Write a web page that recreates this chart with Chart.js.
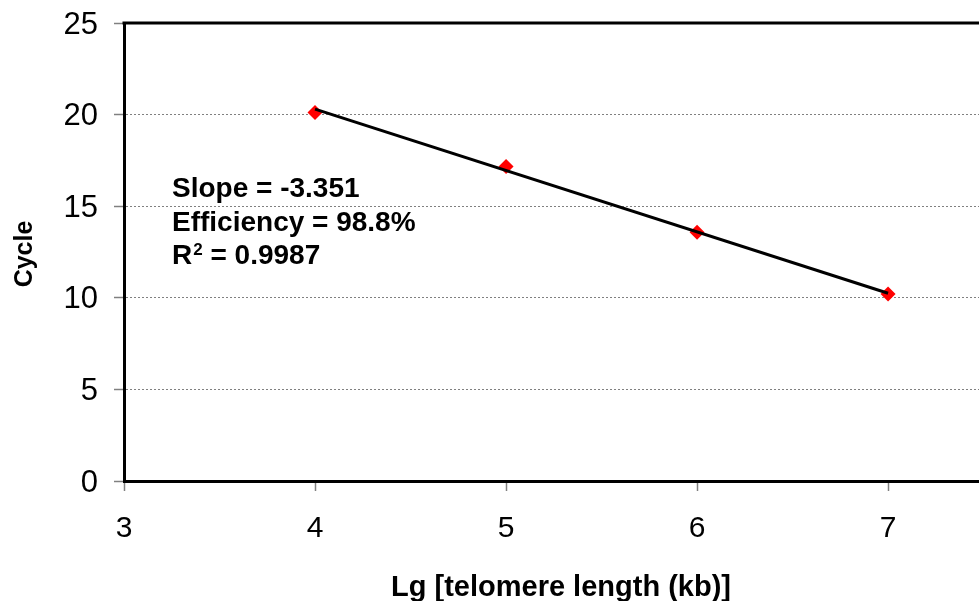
<!DOCTYPE html>
<html>
<head>
<meta charset="utf-8">
<script src="https://cdn.jsdelivr.net/npm/chart.js@4.4.1/dist/chart.umd.min.js"></script>
<style>
  html, body { margin: 0; padding: 0; background: #ffffff; }
  #wrap { width: 979px; height: 601px; position: relative; }
</style>
</head>
<body>
<div id="wrap"><canvas id="c"></canvas></div>
<script>
// ---- data ----
const xValues = [4, 5, 6, 7];
const cycleValues = [20.11, 17.17, 13.58, 10.21];
const trendX = [4, 7];
const trendY = [20.30, 10.25];
const xTickValues = [3, 4, 5, 6, 7];
const yTickValues = [0, 5, 10, 15, 20, 25];
const xTitle = 'Lg [telomere length (kb)]';
const yTitle = 'Cycle';
const annotationLines = ['Slope = -3.351', 'Efficiency = 98.8%', 'R2 = 0.9987'];

const FONT = '"Liberation Sans", Arial, Helvetica, sans-serif';

const extrasPlugin = {
  id: 'extras',
  afterDraw(chart) {
    const ctx = chart.ctx;
    const a = chart.chartArea;
    ctx.save();
    // top border of plot box
    ctx.strokeStyle = '#000000';
    ctx.lineWidth = 3;
    ctx.beginPath();
    ctx.moveTo(a.left - 1.5, a.top);
    ctx.lineTo(a.right, a.top);
    ctx.stroke();

    ctx.fillStyle = '#000000';
    // x title
    ctx.font = 'bold 29px ' + FONT;
    ctx.textAlign = 'center';
    ctx.textBaseline = 'alphabetic';
    ctx.fillText(xTitle, 561, 596);
    // y title
    ctx.save();
    ctx.translate(32, 254);
    ctx.rotate(-Math.PI / 2);
    ctx.font = 'bold 25px ' + FONT;
    ctx.textAlign = 'center';
    ctx.textBaseline = 'alphabetic';
    ctx.fillText(yTitle, 0, 0);
    ctx.restore();

    // annotation
    ctx.font = 'bold 28px ' + FONT;
    ctx.textAlign = 'left';
    const x0 = a.left + 48;
    const base = [a.top + 174, a.top + 208, a.top + 241];
    ctx.fillText(annotationLines[0], x0, base[0]);
    ctx.fillText(annotationLines[1], x0, base[1]);
    // R² with superscript
    const r = annotationLines[2];
    const head = r.charAt(0);
    const sup = r.charAt(1);
    const rest = r.slice(2);
    ctx.fillText(head, x0, base[2]);
    let w = ctx.measureText(head).width;
    ctx.font = 'bold 17px ' + FONT;
    ctx.fillText(sup, x0 + w + 1, base[2] - 9);
    const ws = ctx.measureText(sup).width;
    ctx.font = 'bold 28px ' + FONT;
    ctx.fillText(rest, x0 + w + 1 + ws, base[2]);
    ctx.restore();
  }
};

new Chart(document.getElementById('c'), {
  type: 'scatter',
  data: {
    datasets: [
      {
        label: 'Trend',
        type: 'line',
        data: trendX.map((x, i) => ({ x: x, y: trendY[i] })),
        borderColor: '#000000',
        borderWidth: 3,
        pointRadius: 0,
        fill: false,
        order: 0
      },
      {
        label: 'Cycle',
        data: xValues.map((x, i) => ({ x: x, y: cycleValues[i] })),
        pointStyle: 'rectRot',
        pointRadius: 7.5,
        pointHoverRadius: 7.5,
        pointBackgroundColor: '#ff0000',
        pointBorderColor: '#ff0000',
        pointBorderWidth: 0,
        order: 1
      }
    ]
  },
  options: {
    responsive: true,
    maintainAspectRatio: false,
    animation: false,
    events: [],
    layout: { autoPadding: false, padding: { top: 23, left: 0, right: 0, bottom: 0 } },
    plugins: { legend: { display: false }, tooltip: { enabled: false } },
    scales: {
      x: {
        type: 'linear',
        min: 3,
        max: 7.476,
        afterBuildTicks(scale) { scale.ticks = xTickValues.map(v => ({ value: v })); },
        afterFit(scale) {
          scale.height = 120;
          scale.paddingLeft = 0;
          scale.paddingRight = 0;
        },
        grid: {
          display: true,
          drawOnChartArea: false,
          drawTicks: true,
          tickLength: 10,
          tickColor: '#808080',
          tickWidth: 1.5
        },
        border: { display: true, color: '#000000', width: 3 },
        ticks: {
          color: '#000000',
          font: { family: FONT, size: 30 },
          padding: 20,
          maxRotation: 0
        }
      },
      y: {
        type: 'linear',
        min: 0,
        max: 25,
        afterBuildTicks(scale) { scale.ticks = yTickValues.map(v => ({ value: v })); },
        afterFit(scale) {
          scale.width = 124;
          scale.paddingTop = 0;
          scale.paddingBottom = 0;
        },
        grid: {
          display: true,
          drawOnChartArea: true,
          drawTicks: true,
          tickLength: 10,
          color: '#808080',
          lineWidth: 1,
          tickColor: '#808080',
          tickWidth: 1.5,
          tickBorderDash: []
        },
        border: { display: true, color: '#000000', width: 3, dash: [2, 2] },
        ticks: {
          color: '#000000',
          font: { family: FONT, size: 31 },
          padding: 16,
          labelOffset: 2
        }
      }
    }
  },
  plugins: [extrasPlugin]
});
</script>
</body>
</html>
